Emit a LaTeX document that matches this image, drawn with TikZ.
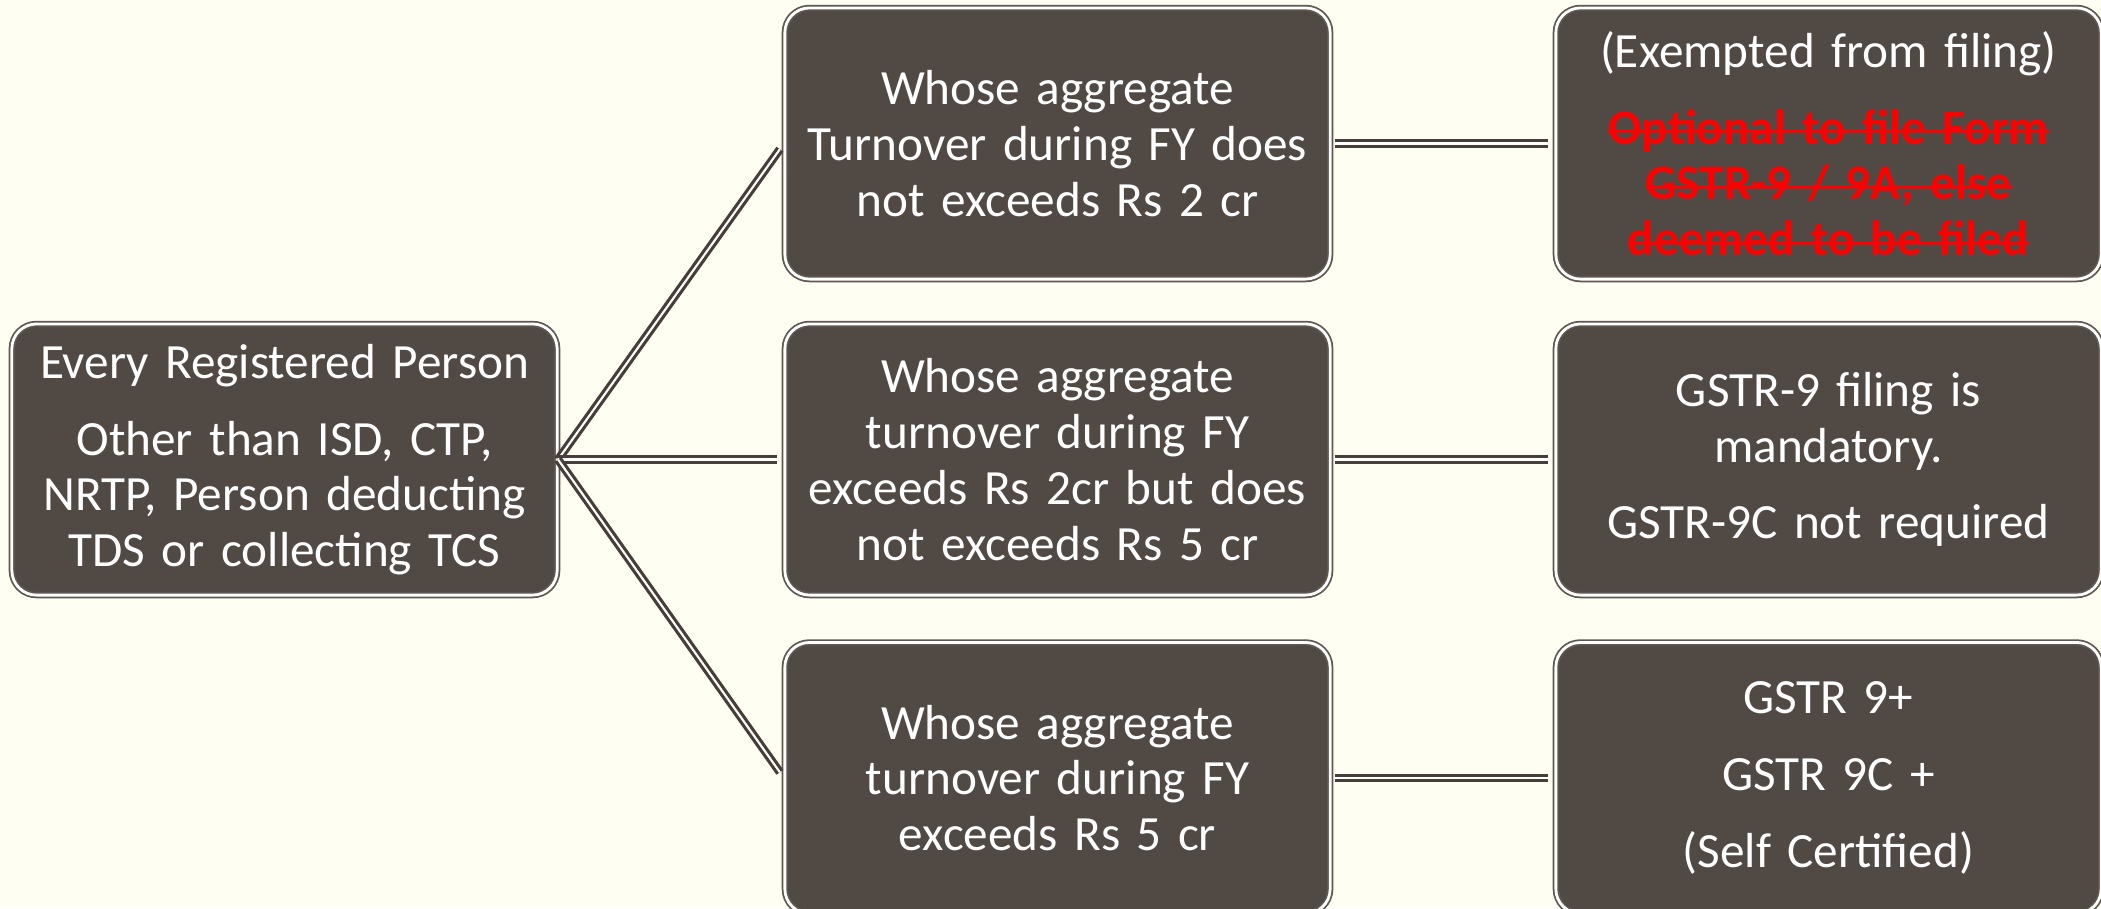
\documentclass[tikz,border=0pt]{standalone}
\usepackage{fontspec}
\setmainfont{Carlito}
\newsavebox{\strkbox}
\newcommand{\strk}[1]{\leavevmode\mbox{\sbox{\strkbox}{#1}\usebox{\strkbox}\llap{\rule[0.45ex]{\wd\strkbox}{0.8pt}}}}
\definecolor{bgcream}{HTML}{FFFEF3}
\definecolor{boxbrown}{HTML}{514944}
\definecolor{edgebrown}{HTML}{5E5650}
\definecolor{linkbrown}{HTML}{463E39}
\definecolor{strikered}{HTML}{FF0000}
\tikzset{
  gstbox/.style={draw=edgebrown, double=white, double distance=0.8pt, line width=0.5pt,
    fill=boxbrown, rounded corners=7pt, minimum width=5.45cm, minimum height=2.71cm,
    inner sep=0pt, text=white, text width=5.3cm, align=center,
    font=\fontsize{14}{15.85}\selectfont},
  gstlink/.style={draw=linkbrown, double=white, double distance=0.6pt, line width=0.9pt},
}
\begin{document}
\begin{tikzpicture}[x=0.01cm, y=-0.01cm]

    % background
    \fill[bgcream] (0,0) rectangle (2101,908);
    \useasboundingbox (0,0) rectangle (2101,908);

    % left box
    \node[gstbox] (reg) at (284.5,459.5)
      {Every Registered Person\\[6pt]
       Other than ISD, CTP,\\ NRTP, Person deducting\\ TDS or collecting TCS};

    % middle column
    \node[gstbox] (low) at (1057.5,143.5)
      {Whose aggregate\\ Turnover during FY does\\ not exceeds Rs 2 cr};
    \node[gstbox] (mid) at (1057.5,459.5)
      {Whose aggregate\\ turnover during FY\\ exceeds Rs 2cr but does\\ not exceeds Rs 5 cr};
    \node[gstbox] (high) at (1057.5,778)
      {Whose aggregate\\ turnover during FY\\ exceeds Rs 5 cr};

    % right column
    \node[gstbox] (lowres) at (1828.5,143.5)
      {(Exempted from filing)\\[6pt]
       \color{strikered}\bfseries\strk{Optional to file Form}\\
        \strk{GSTR-9 / 9A, else}\\ \strk{deemed to be filed}};
    \node[gstbox] (midres) at (1828.5,459.5)
      {GSTR-9 filing is\\ mandatory.\\[6pt] GSTR-9C not required};
    \node[gstbox] (highres) at (1828.5,778)
      {GSTR 9+\\[6pt] GSTR 9C +\\[6pt] (Self Certified)};

    % connectors from the left box
    \foreach \n in {low,mid,high}
      \draw[gstlink, shorten >=2pt] (reg.east) -- (\n.west);

    % connectors to the right column
    \draw[gstlink, shorten <=1pt, shorten >=2pt] (low.east) -- (lowres.west);
    \draw[gstlink, shorten <=1pt, shorten >=2pt] (mid.east) -- (midres.west);
    \draw[gstlink, shorten <=1pt, shorten >=2pt] (high.east) -- (highres.west);

\end{tikzpicture}
\end{document}
